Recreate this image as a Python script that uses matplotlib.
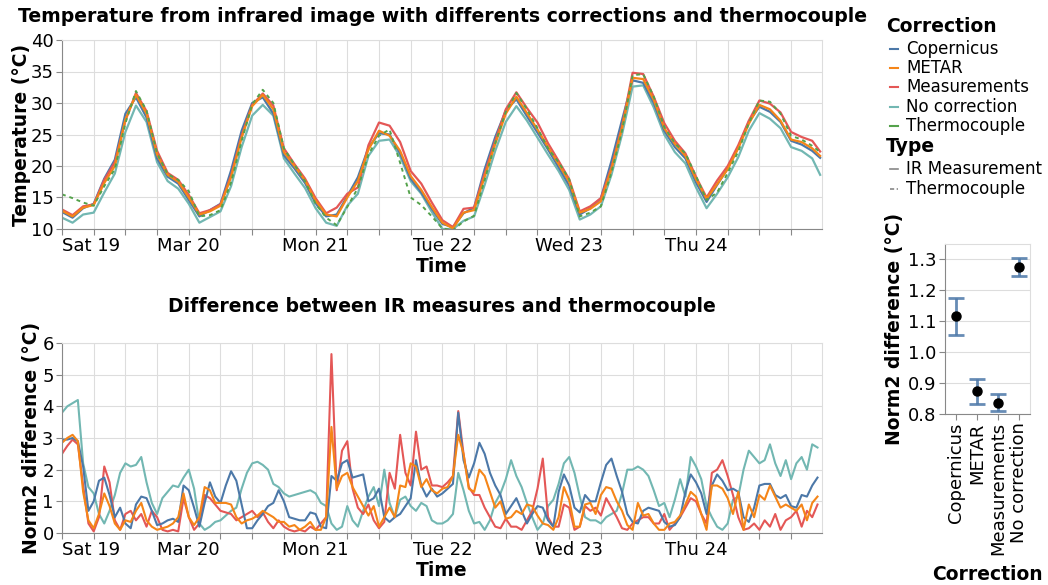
import matplotlib
matplotlib.use('Agg')
import matplotlib.pyplot as plt
from matplotlib.lines import Line2D
import numpy as np

# hours since Sat 19 00:00
top_hours = list(range(0, 143, 2)) + [143.5]
diff_hours = list(range(0, 144))

day_ticks = [0, 24, 48, 72, 96, 120]
day_labels = ['Sat 19', 'Mar 20', 'Mon 21', 'Tue 22', 'Wed 23', 'Thu 24']

# temperature (°C), one value per 2 hours
temp_copernicus = [12.7, 11.8, 13.3, 14.0, 18.0, 21.0, 28.3, 30.9, 27.7, 21.2, 18.3, 17.2,
                   14.6, 12.0, 13.0, 14.0, 19.3, 25.6, 30.0, 30.9, 28.3, 21.7, 19.6, 17.3,
                   14.1, 12.0, 12.3, 15.2, 18.2, 22.9, 25.2, 25.0, 22.0, 18.0, 15.8, 13.2,
                   10.8, 10.3, 12.5, 13.4, 19.5, 24.6, 28.8, 30.6, 27.9, 25.3, 22.6, 19.8,
                   16.9, 12.3, 13.3, 14.9, 20.8, 27.3, 33.6, 33.2, 30.0, 25.6, 23.0, 21.2,
                   17.4, 14.3, 17.0, 19.6, 23.0, 27.0, 29.4, 28.6, 27.0, 24.0, 23.4, 22.4,
                   21.3]
temp_metar = [12.9, 12.0, 13.4, 13.8, 17.3, 20.0, 27.4, 31.3, 28.3, 21.8, 18.6, 17.5,
              15.0, 12.3, 12.8, 13.7, 18.2, 24.5, 29.5, 31.3, 29.0, 22.2, 20.0, 17.7,
              14.5, 12.3, 12.0, 15.0, 17.6, 22.6, 25.6, 24.8, 22.4, 18.4, 16.2, 13.5,
              11.0, 10.1, 12.6, 13.0, 18.3, 23.5, 28.3, 31.0, 28.4, 25.8, 23.0, 20.3,
              17.5, 12.6, 13.2, 14.4, 19.5, 26.0, 34.0, 33.8, 30.5, 26.0, 23.5, 21.6,
              17.9, 14.8, 17.1, 19.5, 22.8, 26.7, 29.7, 29.0, 27.2, 24.2, 23.8, 22.8,
              21.6]
temp_measurements = [13.1, 12.2, 13.6, 13.9, 17.8, 20.6, 27.2, 31.6, 28.7, 22.4, 18.9, 17.8,
                     15.4, 12.5, 13.0, 13.9, 18.5, 24.8, 29.7, 31.5, 29.6, 22.8, 20.3, 18.0,
                     14.9, 12.5, 13.4, 15.6, 16.6, 23.3, 26.9, 26.4, 23.8, 19.2, 17.2, 14.2,
                     11.4, 10.3, 13.2, 13.4, 18.8, 24.0, 29.0, 31.7, 29.2, 26.9, 23.6, 20.8,
                     17.9, 12.8, 13.6, 14.9, 19.8, 26.3, 34.8, 34.6, 31.0, 26.8, 24.0, 22.0,
                     18.3, 15.0, 17.7, 20.0, 23.3, 27.2, 30.4, 29.9, 28.5, 25.4, 24.6, 24.0,
                     22.3]
temp_nocorr = [11.8, 11.0, 12.3, 12.6, 15.8, 18.8, 25.4, 29.6, 27.0, 20.6, 17.6, 16.4,
               14.0, 11.0, 11.9, 12.8, 16.8, 23.0, 28.0, 29.7, 28.0, 21.2, 18.8, 16.5,
               13.3, 11.0, 10.5, 13.7, 15.6, 21.6, 24.0, 24.2, 21.5, 17.6, 15.6, 12.7,
               10.0, 10.0, 11.3, 12.0, 17.0, 22.4, 27.0, 29.5, 27.2, 24.5, 21.8, 19.2,
               16.2, 11.5, 12.3, 13.6, 18.6, 25.0, 32.6, 32.8, 29.3, 25.0, 22.2, 20.4,
               16.6, 13.3, 15.6, 18.2, 21.4, 25.6, 28.4, 27.5, 26.0, 23.0, 22.4, 21.2,
               18.6]
temp_thermo = [15.5, 14.9, 14.2, 13.7, 16.8, 19.5, 26.8, 31.9, 28.8, 22.0, 18.7, 17.8,
               16.0, 12.0, 12.2, 13.0, 17.4, 24.0, 29.8, 32.1, 30.0, 22.8, 20.2, 17.6,
               14.0, 11.8, 10.6, 13.5, 16.5, 21.8, 24.8, 25.8, 20.5, 15.0, 13.8, 12.0,
               10.1, 9.8, 11.2, 12.1, 17.8, 23.6, 28.6, 31.6, 29.0, 26.0, 22.8, 20.6,
               17.9, 12.0, 12.6, 13.6, 19.0, 25.6, 34.4, 34.6, 31.0, 26.2, 23.6, 22.0,
               18.4, 14.6, 15.8, 18.9, 22.3, 26.8, 30.4, 30.2, 28.3, 24.8, 24.2, 23.2,
               22.2]

# norm2 difference to thermocouple (°C), hourly
diff_copernicus = [2.95, 2.95, 3.0, 2.9, 2.1, 0.7, 1.0, 1.65, 1.75, 1.2, 0.5, 0.8,
                   0.3, 0.15, 0.9, 1.15, 1.1, 0.7, 0.25, 0.3, 0.4, 0.45, 0.35, 1.5,
                   1.35, 0.8, 0.2, 0.95, 1.6, 1.15, 0.95, 1.5, 1.95, 1.65, 0.9, 0.15,
                   0.15, 0.4, 0.6, 0.85, 0.95, 1.35, 1.0, 0.5, 0.45, 0.4, 0.4, 0.65,
                   0.6, 0.2, 0.15, 1.8, 1.65, 2.2, 2.3, 1.75, 1.8, 1.85, 1.0, 1.1,
                   1.4, 0.5, 0.35, 0.5, 0.6, 0.85, 1.1, 2.3, 1.5, 1.15, 1.4, 1.15,
                   1.25, 1.4, 1.55, 3.8, 2.3, 1.75, 2.2, 2.85, 2.5, 1.9, 1.5, 1.2,
                   0.6, 0.85, 1.1, 0.7, 0.3, 0.6, 0.85, 0.8, 0.4, 0.2, 1.3, 1.85,
                   1.5, 0.8, 0.65, 1.2, 1.0, 1.0, 1.6, 2.15, 2.35, 1.8, 1.3, 0.6,
                   0.35, 0.3, 0.7, 0.8, 0.75, 0.7, 0.35, 0.2, 0.25, 0.5, 1.3, 1.85,
                   1.6, 1.25, 0.6, 1.5, 1.85, 1.65, 1.35, 1.4, 1.3, 0.5, 0.35, 0.8,
                   1.5, 1.55, 1.55, 1.2, 1.1, 1.2, 0.85, 0.8, 1.2, 1.15, 1.5, 1.75]
diff_metar = [2.85, 3.0, 3.1, 2.9, 1.3, 0.4, 0.15, 0.6, 1.25, 0.85, 0.3, 0.1,
              0.4, 0.35, 0.7, 0.95, 0.4, 0.2, 0.1, 0.15, 0.2, 0.3, 0.5, 1.25,
              0.5, 0.25, 0.5, 1.45, 1.35, 0.95, 0.95, 0.95, 0.9, 0.5, 0.3, 0.4,
              0.45, 0.55, 0.7, 0.6, 0.5, 0.35, 0.35, 0.2, 0.25, 0.1, 0.2, 0.35,
              0.1, 0.1, 0.5, 3.35, 1.4, 1.8, 1.9, 1.45, 1.15, 0.85, 0.55, 0.85,
              0.2, 0.5, 0.8, 0.5, 1.5, 1.45, 2.2, 2.1, 1.45, 1.7, 1.35, 1.25,
              1.4, 1.45, 1.8, 3.1, 2.5, 1.4, 1.3, 2.0, 1.8, 1.3, 0.8, 1.0,
              0.45, 0.5, 0.7, 0.6, 0.9, 0.85, 0.55, 0.3, 0.25, 0.1, 0.5, 1.45,
              1.05, 0.2, 0.2, 0.9, 0.95, 0.6, 1.2, 1.45, 1.4, 1.0, 0.7, 0.25,
              0.1, 0.95, 0.55, 0.6, 0.3, 0.1, 0.1, 0.3, 0.35, 0.55, 0.9, 1.3,
              1.15, 0.6, 0.1, 1.5, 1.5, 1.4, 1.1, 0.6, 1.3, 0.1, 0.9, 0.5,
              1.2, 1.05, 1.5, 1.15, 0.8, 0.9, 0.8, 0.7, 0.9, 0.4, 0.95, 1.15]
diff_measurements = [2.5, 2.75, 2.95, 2.8, 1.5, 0.3, 0.05, 0.5, 2.1, 1.6, 0.4, 0.1,
                     0.6, 0.7, 0.4, 0.6, 0.2, 0.7, 0.5, 0.1, 0.05, 0.1, 0.05, 1.1,
                     0.5, 0.1, 0.3, 1.2, 1.1, 0.9, 0.7, 0.65, 0.6, 0.4, 0.5, 0.6,
                     0.7, 0.5, 0.65, 0.35, 0.15, 0.4, 0.2, 0.1, 0.05, 0.1, 0.05, 0.2,
                     0.1, 0.3, 0.5, 5.65, 1.35, 2.6, 2.9, 1.4, 0.8, 0.6, 0.9, 0.4,
                     0.15, 0.35, 1.9, 1.4, 3.1, 1.9, 1.5, 3.2, 2.0, 2.1, 1.5, 1.5,
                     1.45, 1.6, 1.8, 3.85, 2.5, 1.45, 1.2, 1.2, 0.8, 0.5, 0.2, 0.15,
                     0.45, 0.2, 0.2, 0.1, 0.4, 0.7, 1.4, 2.35, 0.5, 0.2, 0.2, 0.9,
                     0.8, 0.1, 0.2, 0.85, 0.7, 0.8, 0.55, 1.1, 0.8, 0.5, 0.15, 0.1,
                     0.3, 0.4, 0.5, 0.5, 0.3, 0.3, 0.6, 0.1, 0.3, 0.5, 0.8, 1.1,
                     1.0, 0.6, 0.3, 1.9, 2.0, 2.3, 1.8, 1.2, 0.5, 0.1, 0.15, 0.3,
                     0.1, 0.4, 0.2, 0.6, 0.1, 0.4, 0.5, 0.7, 0.2, 0.7, 0.5, 0.9]
diff_nocorr = [3.8, 4.0, 4.1, 4.2, 2.2, 1.45, 1.25, 0.6, 0.3, 0.7, 1.2, 1.9,
               2.2, 2.1, 2.15, 2.4, 1.6, 0.95, 0.6, 1.1, 1.3, 1.5, 1.45, 1.75,
               2.0, 1.4, 0.3, 0.1, 0.2, 0.35, 0.4, 0.55, 0.7, 0.8, 1.4, 1.9,
               2.2, 2.25, 2.15, 2.0, 1.55, 1.45, 1.25, 1.15, 1.2, 1.25, 1.3, 1.35,
               1.25, 0.95, 0.85, 0.3, 0.1, 0.2, 0.85, 0.4, 0.2, 0.7, 1.15, 1.45,
               0.85, 2.0, 0.95, 0.5, 1.05, 1.15, 0.85, 0.7, 0.95, 0.85, 0.4, 0.3,
               0.3, 0.4, 0.6, 1.9, 1.35, 0.7, 0.3, 0.35, 0.1, 0.4, 0.95, 1.25,
               1.7, 2.3, 1.8, 1.45, 0.95, 0.5, 0.1, 0.3, 0.85, 1.05, 1.55, 2.2,
               2.4, 1.9, 1.15, 0.5, 0.4, 0.4, 0.3, 0.5, 0.6, 0.7, 1.25, 2.0,
               2.0, 2.1, 2.0, 1.8, 1.35, 0.85, 0.95, 0.5, 1.05, 1.7, 1.15, 2.4,
               2.1, 1.7, 0.85, 0.5, 0.2, 0.1, 0.3, 1.05, 1.15, 2.0, 2.6, 2.4,
               2.2, 2.3, 2.8, 2.2, 1.8, 2.3, 1.7, 2.2, 2.4, 2.0, 2.8, 2.7]

# mean norm2 difference with confidence interval
corrections = ['Copernicus', 'METAR', 'Measurements', 'No correction']
norm2_mean = [1.115, 0.873, 0.837, 1.273]
norm2_low = [1.056, 0.833, 0.811, 1.246]
norm2_high = [1.174, 0.912, 0.864, 1.302]

colors = {'Copernicus': '#4c78a8', 'METAR': '#f58518', 'Measurements': '#e45756',
          'No correction': '#72b7b2', 'Thermocouple': '#54a24b'}

W, H = 1048, 585
fig = plt.figure(figsize=(W / 100, H / 100), dpi=100)


def box(l, t, r, b):
    return [l / W, 1 - b / H, (r - l) / W, (b - t) / H]


def style(ax):
    ax.set_facecolor('white')
    for s in ['top', 'right']:
        ax.spines[s].set_color('#dddddd')
    for s in ['left', 'bottom']:
        ax.spines[s].set_color('#888888')
    for s in ax.spines.values():
        s.set_linewidth(0.8)
    ax.tick_params(which='both', length=4, width=0.8, color='#888888',
                   labelsize=13, pad=2)
    ax.set_axisbelow(True)


def time_axis(ax):
    ax.set_xlim(0, 143.85)
    ax.set_xticks(day_ticks)
    ax.set_xticklabels(day_labels)
    ax.set_xticks(np.arange(6, 144, 6), minor=True)
    ax.get_xticklabels()[0].set_ha('left')
    ax.grid(True, which='both', color='#dddddd', linewidth=0.8)
    ax.set_xlabel('Time', fontsize=13.5, fontweight='bold', labelpad=1)


# top chart
ax1 = fig.add_axes(box(62, 40, 822, 229))
style(ax1)
ax1.plot(top_hours, temp_nocorr, color=colors['No correction'], lw=1.6)
ax1.plot(top_hours, temp_copernicus, color=colors['Copernicus'], lw=1.6)
ax1.plot(top_hours, temp_measurements, color=colors['Measurements'], lw=1.6)
ax1.plot(top_hours, temp_metar, color=colors['METAR'], lw=1.6)
ax1.plot(top_hours, temp_thermo, color=colors['Thermocouple'], lw=1.4, ls=(0, (2, 2)))
ax1.set_ylim(10, 40)
ax1.set_yticks(range(10, 41, 5))
time_axis(ax1)
ax1.set_ylabel('Temperature (°C)', fontsize=13.5, fontweight='bold', labelpad=0)
fig.text(442 / W, 1 - 17 / H, 'Temperature from infrared image with differents corrections and thermocouple',
         ha='center', va='center', fontsize=13.6, fontweight='bold')

# bottom chart
ax2 = fig.add_axes(box(62, 343, 822, 533))
style(ax2)
ax2.plot(diff_hours, diff_nocorr, color=colors['No correction'], lw=1.5)
ax2.plot(diff_hours, diff_measurements, color=colors['Measurements'], lw=1.5)
ax2.plot(diff_hours, diff_copernicus, color=colors['Copernicus'], lw=1.5)
ax2.plot(diff_hours, diff_metar, color=colors['METAR'], lw=1.5)
ax2.set_ylim(0, 6)
ax2.set_yticks(range(0, 7))
time_axis(ax2)
ax2.set_ylabel('Norm2 difference (°C)', fontsize=13.5, fontweight='bold', labelpad=1)
fig.text(442 / W, 1 - 307 / H, 'Difference between IR measures and thermocouple',
         ha='center', va='center', fontsize=13.6, fontweight='bold')

# error bar chart
ax3 = fig.add_axes(box(945, 244, 1030, 414))
style(ax3)
xpos = np.arange(len(corrections))
mean = np.array(norm2_mean)
err = [mean - np.array(norm2_low), np.array(norm2_high) - mean]
ax3.errorbar(xpos, mean, yerr=err, fmt='none', ecolor='#4c78a8', alpha=0.85,
             elinewidth=2, capsize=6, capthick=2)
ax3.plot(xpos, mean, 'o', color='black', markersize=6.5)
ax3.set_xlim(-0.5, 3.5)
ax3.set_ylim(0.8, 1.348)
ax3.set_yticks([0.8, 0.9, 1.0, 1.1, 1.2, 1.3])
ax3.set_yticklabels(['0.8', '0.9', '1.0', '1.1', '1.2', '1.3'])
ax3.set_xticks(xpos)
ax3.set_xticklabels(corrections, rotation=90)
ax3.grid(True, axis='y', color='#dddddd', linewidth=0.8)
ax3.set_ylabel('Norm2 difference (°C)', fontsize=13.5, fontweight='bold', labelpad=3)
ax3.set_xlabel('Correction', fontsize=13.5, fontweight='bold', labelpad=7)

# legends
def fx(px):
    return px / W


def fy(py):
    return 1 - py / H


fig.text(fx(886), fy(27), 'Correction', fontsize=13.5, fontweight='bold', va='center')
legend_items = ['Copernicus', 'METAR', 'Measurements', 'No correction', 'Thermocouple']
for i, name in enumerate(legend_items):
    y = 49 + i * 19.2
    fig.add_artist(Line2D([fx(890), fx(898)], [fy(y), fy(y)], color=colors[name], lw=1.5))
    fig.text(fx(906), fy(y), name, fontsize=12, va='center')

fig.text(fx(886), fy(147), 'Type', fontsize=13.5, fontweight='bold', va='center')
type_items = [('IR Measurement', '-'), ('Thermocouple', (0, (2.5, 1.5)))]
for i, (name, ls) in enumerate(type_items):
    y = 169 + i * 20
    fig.add_artist(Line2D([fx(890), fx(898)], [fy(y), fy(y)], color='#888888', lw=1.2, ls=ls))
    fig.text(fx(906), fy(y), name, fontsize=12, va='center')

fig.savefig('out.png', dpi=100, facecolor='white')
